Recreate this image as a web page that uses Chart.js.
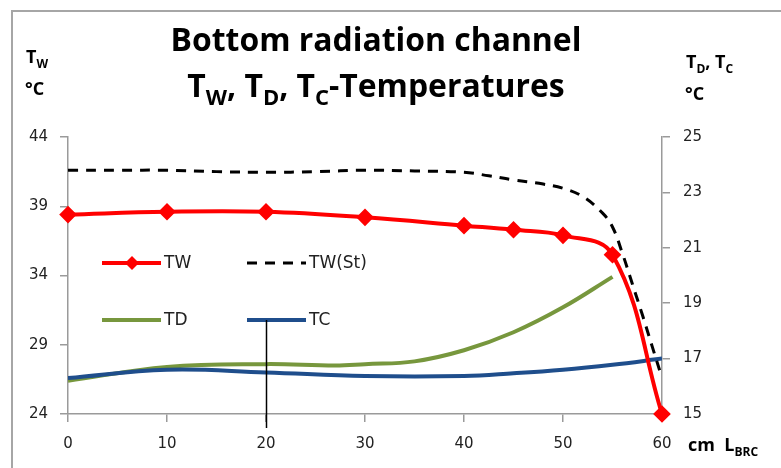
<!DOCTYPE html>
<html>
<head>
<meta charset="utf-8">
<script src="https://cdn.jsdelivr.net/npm/chart.js@4"></script>
<style>
  body { margin: 0; background: #fff; }
  #wrap { width: 781px; height: 468px; position: relative; }
</style>
</head>
<body>
<div id="wrap"><canvas id="chart" width="781" height="468"></canvas></div>
<script>
// length along the bottom radiation channel, cm
const twX = [0, 10, 20, 30, 40, 45, 50, 55, 60]
const twValues = [38.4, 38.6, 38.6, 38.2, 37.6, 37.3, 36.9, 35.5, 24.0]

const twStX = [0, 5, 10, 15, 20, 25, 30, 35, 40, 42.5, 45, 48, 50, 52, 54, 55, 56, 57, 58, 59, 60]
const twStValues = [41.6, 41.6, 41.6, 41.5, 41.45, 41.5, 41.6, 41.55, 41.45, 41.2, 40.9, 40.6, 40.3, 39.7, 38.5, 37.5, 35.6, 33.4, 31.2, 28.9, 26.6]

const tdX = [0, 10, 20, 27, 30, 35, 40, 45, 50, 55]
const tdValues = [16.2, 16.7, 16.8, 16.75, 16.8, 16.9, 17.3, 17.95, 18.85, 19.95]

const tcX = [0, 10, 20, 30, 40, 45, 50, 55, 60]
const tcValues = [16.3, 16.6, 16.5, 16.37, 16.37, 16.47, 16.6, 16.78, 17.0]

const xTicks = [0, 10, 20, 30, 40, 50, 60]
const leftTicks = [24, 29, 34, 39, 44]
const rightTicks = [15, 17, 19, 21, 23, 25]
const calloutX = 20

const axisColor = "#9a9a9a"
const textColor = "#222"
const tickFont = { family: "DejaVu Sans", size: 15 }
const boldFamily = "'Open Sans'"

function points(xs, ys) {
    return xs.map((x, i) => ({ x: x, y: ys[i] }))
}

// draws a row of text pieces, some of them as subscripts
function drawRuns(c, runs, x, y, size, align) {
    const subSize = Math.round(size * 0.68)
    const widths = runs.map(r => {
        c.font = "bold " + (r.sub ? subSize : size) + "px " + boldFamily
        return c.measureText(r.t).width
    })
    const total = widths.reduce((a, b) => a + b, 0)
    let cx = align === "center" ? x - total / 2 : x
    c.textAlign = "left"
    c.textBaseline = "alphabetic"
    runs.forEach((r, i) => {
        c.font = "bold " + (r.sub ? subSize : size) + "px " + boldFamily
        c.fillText(r.t, cx, r.sub ? y + size * 0.25 : y)
        cx += widths[i]
    })
}

const decor = {
    id: "decor",
    beforeDraw(chart) {
        const c = chart.ctx
        c.save()
        // frame, only left and top sides visible
        c.strokeStyle = "#a6a6a6"
        c.lineWidth = 2
        c.beginPath()
        c.moveTo(12, 468)
        c.lineTo(12, 11)
        c.lineTo(781, 11)
        c.stroke()
        c.restore()
    },
    afterDraw(chart) {
        const c = chart.ctx
        const ds = chart.data.datasets
        c.save()
        c.fillStyle = "#000"

        // title, fitted to the width of the original
        c.font = "bold 30px " + boldFamily
        const size = 30 * 411 / c.measureText("Bottom radiation channel").width
        drawRuns(c, [{ t: "Bottom radiation channel" }], 376, 51, size, "center")
        drawRuns(c, [
            { t: "T" }, { t: "W", sub: true }, { t: ", T" }, { t: "D", sub: true },
            { t: ", T" }, { t: "C", sub: true }, { t: "-Temperatures" }
        ], 376, 97, size, "center")

        // axis units
        drawRuns(c, [{ t: "T" }, { t: "W", sub: true }], 26, 63, 18)
        drawRuns(c, [{ t: "°C" }], 25, 95, 18)
        drawRuns(c, [{ t: "T" }, { t: "D", sub: true }, { t: ", T" }, { t: "C", sub: true }], 686, 68, 18)
        drawRuns(c, [{ t: "°C" }], 685, 100, 18)
        drawRuns(c, [{ t: "cm  L" }, { t: "BRC", sub: true }], 688, 451, 18)

        // legend, two rows of two inside the plot
        const items = [
            { i: 0, x: 102, y: 263 }, { i: 1, x: 247, y: 263 },
            { i: 3, x: 102, y: 320 }, { i: 2, x: 247, y: 320 }
        ]
        items.forEach(it => {
            const d = ds[it.i]
            c.strokeStyle = d.borderColor
            c.lineWidth = d.borderWidth
            c.setLineDash(d.borderDash || [])
            c.beginPath()
            c.moveTo(it.x, it.y)
            c.lineTo(it.x + 59, it.y)
            c.stroke()
            c.setLineDash([])
            if (d.pointRadius > 0) {
                const mx = it.x + 30, r = d.pointRadius + 1
                c.fillStyle = d.backgroundColor
                c.beginPath()
                c.moveTo(mx, it.y - r)
                c.lineTo(mx + r, it.y)
                c.lineTo(mx, it.y + r)
                c.lineTo(mx - r, it.y)
                c.closePath()
                c.fill()
            }
            c.fillStyle = textColor
            c.font = "17px 'DejaVu Sans'"
            c.textBaseline = "middle"
            c.textAlign = "left"
            c.fillText(d.label, it.x + 62, it.y + 1)
        })

        // callout line from the TC legend entry down through x = 20
        const xs = chart.scales.x
        const px = Math.round(xs.getPixelForValue(calloutX)) + 0.5
        c.strokeStyle = "#000"
        c.lineWidth = 1.5
        c.beginPath()
        c.moveTo(px, 320)
        c.lineTo(px, chart.chartArea.bottom + 14)
        c.stroke()
        c.restore()
    }
}

const ctx = document.getElementById("chart")
const MyChart = new Chart(ctx, {
    type: "line",
    data: {
        datasets: [
            {
                label: "TW",
                data: points(twX, twValues),
                yAxisID: "y",
                borderColor: "#ff0000",
                backgroundColor: "#ff0000",
                borderWidth: 4,
                pointStyle: "rectRot",
                pointRadius: 6,
                tension: 0.4,
                clip: false
            },
            {
                label: "TW(St)",
                data: points(twStX, twStValues),
                yAxisID: "y",
                borderColor: "#000",
                borderWidth: 3,
                borderDash: [10, 8],
                pointRadius: 0,
                tension: 0.4
            },
            {
                label: "TC",
                data: points(tcX, tcValues),
                yAxisID: "y2",
                borderColor: "#1f4e8c",
                borderWidth: 4,
                pointRadius: 0,
                tension: 0.4
            },
            {
                label: "TD",
                data: points(tdX, tdValues),
                yAxisID: "y2",
                borderColor: "#77973d",
                borderWidth: 4,
                pointRadius: 0,
                tension: 0.4
            }
        ]
    },
    options: {
        responsive: false,
        animation: false,
        layout: { padding: { top: 137, left: 0, right: 0, bottom: 0 } },
        plugins: {
            legend: { display: false },
            tooltip: { enabled: false }
        },
        scales: {
            x: {
                type: "linear",
                min: 0,
                max: 60,
                afterBuildTicks: s => { s.ticks = xTicks.map(v => ({ value: v })) },
                afterFit: s => { s.height = 54 },
                ticks: { font: tickFont, color: textColor, padding: 13 },
                grid: { drawOnChartArea: false, tickLength: 8, color: axisColor, lineWidth: 1.5 },
                border: { color: axisColor, width: 1.5 }
            },
            y: {
                position: "left",
                min: 24,
                max: 44,
                afterBuildTicks: s => { s.ticks = leftTicks.map(v => ({ value: v })) },
                afterFit: s => { s.width = 68 },
                ticks: { font: tickFont, color: textColor, padding: 12 },
                grid: { drawOnChartArea: false, tickLength: 8, color: axisColor, lineWidth: 1.5 },
                border: { color: axisColor, width: 1.5 }
            },
            y2: {
                position: "right",
                min: 15,
                max: 25,
                afterBuildTicks: s => { s.ticks = rightTicks.map(v => ({ value: v })) },
                afterFit: s => { s.width = 119 },
                ticks: { font: tickFont, color: textColor, padding: 13 },
                grid: { drawOnChartArea: false, tickLength: 8, color: axisColor, lineWidth: 1.5 },
                border: { color: axisColor, width: 1.5 }
            }
        }
    },
    plugins: [decor]
})
</script>
</body>
</html>
